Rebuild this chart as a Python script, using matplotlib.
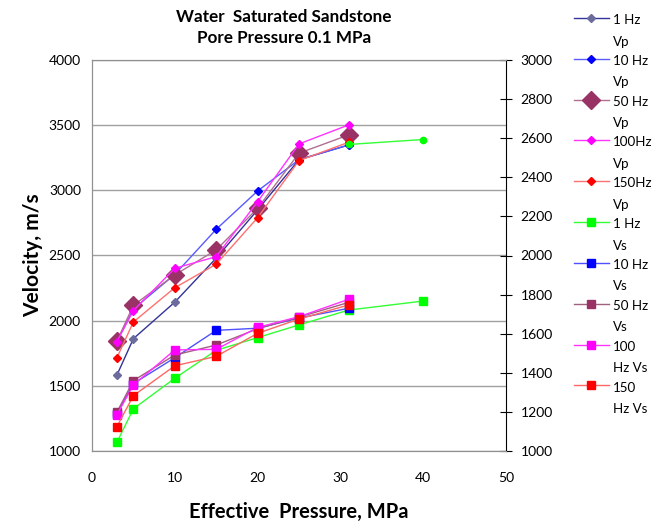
import matplotlib
matplotlib.use("Agg")
import matplotlib.pyplot as plt
from matplotlib.legend_handler import HandlerLine2D

plt.rcParams['font.family'] = ['Lato', 'DejaVu Sans']

# ---- data ----
x_vp = [3, 5, 10, 15, 20, 25, 31]
vp_1hz = [1581, 1862, 2142, 2480, 2850, 3235, 3348]
vp_10hz = [1840, 2090, 2355, 2701, 2995, 3235, 3348]
vp_50hz = [1842, 2118, 2351, 2543, 2862, 3285, 3425]
vp_100hz = [1840, 2077, 2402, 2491, 2913, 3356, 3502]
vp_150hz = [1714, 1990, 2253, 2433, 2790, 3228, 3369]

x_extra = [31, 40]
vp_extra = [3352, 3390]

x_vs1 = [3, 5, 10, 15, 20, 25, 31, 40]
vs_1hz = [1044, 1216, 1372, 1515, 1580, 1645, 1721, 1767]
x_vs = [3, 5, 10, 15, 20, 25, 31]
vs_10hz = [1190, 1345, 1477, 1617, 1628, 1680, 1730]
vs_50hz = [1198, 1360, 1491, 1542, 1625, 1685, 1760]
vs_100hz = [1184, 1338, 1517, 1520, 1632, 1687, 1776]
vs_150hz = [1124, 1283, 1436, 1484, 1602, 1675, 1747]

labels = ["1 Hz\nVp", "10 Hz\nVp", "50 Hz\nVp", "100Hz\nVp", "150Hz\nVp",
          "1 Hz\nVs", "10 Hz\nVs", "50 Hz\nVs", "100\nHz Vs", "150\nHz Vs"]

fig = plt.figure(figsize=(6.55, 5.25), dpi=100)
ax = fig.add_axes([92/655, 1-451/525, (506-92)/655, (451-60)/525])
ax2 = ax.twinx()

# Vp series (left axis)
vp_styles = [
    (vp_1hz, '#333399', '#6b6b9e', 'D', 4),
    (vp_10hz, '#5a5aff', '#0000ff', 'D', 4),
    (vp_50hz, '#b06f93', '#993366', 'D', 9),
    (vp_100hz, '#ff33ff', '#ff00ff', 'D', 4),
    (vp_150hz, '#ff7070', '#ff0000', 'D', 4),
]
handles = []
for (vals, lc, mc, m, ms), lab in zip(vp_styles, labels[:5]):
    h, = ax.plot(x_vp, vals, color=lc, lw=1, marker=m, ms=ms,
                 mfc=mc, mec=mc, label=lab)
    handles.append(h)
ax.plot(x_extra, vp_extra, color='#33ff33', lw=1, marker='o', ms=4.5,
        mfc='#00ff00', mec='#00ff00')

# Vs series (right axis)
vs_styles = [
    (x_vs1, vs_1hz, '#33ff33', '#00ff00'),
    (x_vs, vs_10hz, '#5050ff', '#0000ff'),
    (x_vs, vs_50hz, '#a0607f', '#993366'),
    (x_vs, vs_100hz, '#ff33ff', '#ff00ff'),
    (x_vs, vs_150hz, '#ff6666', '#ff0000'),
]
for (xs, vals, lc, mc), lab in zip(vs_styles, labels[5:]):
    h, = ax2.plot(xs, vals, color=lc, lw=1, marker='s', ms=5.5,
                  mfc=mc, mec=mc, label=lab)
    handles.append(h)

ax.set_xlim(0, 50)
ax.set_ylim(1000, 4000)
ax2.set_ylim(1000, 3000)
ax.set_xticks(range(0, 51, 10))
ax.set_yticks(range(1000, 4001, 500))
ax2.set_yticks(range(1000, 3001, 200))
ax.yaxis.grid(True, color='#a0a0a0', lw=1)
ax.set_axisbelow(True)

for s in ['left', 'bottom', 'top']:
    ax.spines[s].set_color('#909090')
    ax2.spines[s].set_color('#909090')
ax.spines['right'].set_visible(False)
ax2.spines['right'].set_color('black')
ax.tick_params(axis='y', length=0, labelsize=10, pad=8)
ax.tick_params(axis='x', length=0, labelsize=10, pad=15)
ax2.tick_params(axis='y', direction='inout', length=9, color='black',
                labelsize=10, pad=6)

ax.set_ylabel('Velocity, m/s', fontsize=15, fontweight='bold', labelpad=4)
ax.set_xlabel('Effective  Pressure, MPa', fontsize=14.5, fontweight='bold',
              labelpad=13)

fig.text(284/655, 1-17/525, 'Water  Saturated Sandstone', ha='center',
         va='center', fontsize=12.3, fontweight='bold')
fig.text(284/655, 1-38/525, 'Pore Pressure 0.1 MPa', ha='center',
         va='center', fontsize=12.3, fontweight='bold')


class TopLine(HandlerLine2D):
    def __init__(self, shift, **kw):
        super().__init__(**kw)
        self.shift = shift

    def create_artists(self, legend, orig_handle, xdescent, ydescent,
                       width, height, fontsize, trans):
        return super().create_artists(legend, orig_handle, xdescent,
                                      ydescent - 2 * self.shift, width,
                                      height, fontsize, trans)


hm = {h: TopLine(9.5, numpoints=1) for h in handles}
leg = fig.legend(handles, labels, loc='upper left',
                 bbox_to_anchor=(574/655, 1-14/525), frameon=False,
                 fontsize=9.6, handlelength=2.6, handletextpad=0.35,
                 labelspacing=0.55, numpoints=1, handler_map=hm,
                 borderaxespad=0, borderpad=0)
for t in leg.get_texts():
    t.set_linespacing(1.95)

fig.savefig('out.png', dpi=100)
